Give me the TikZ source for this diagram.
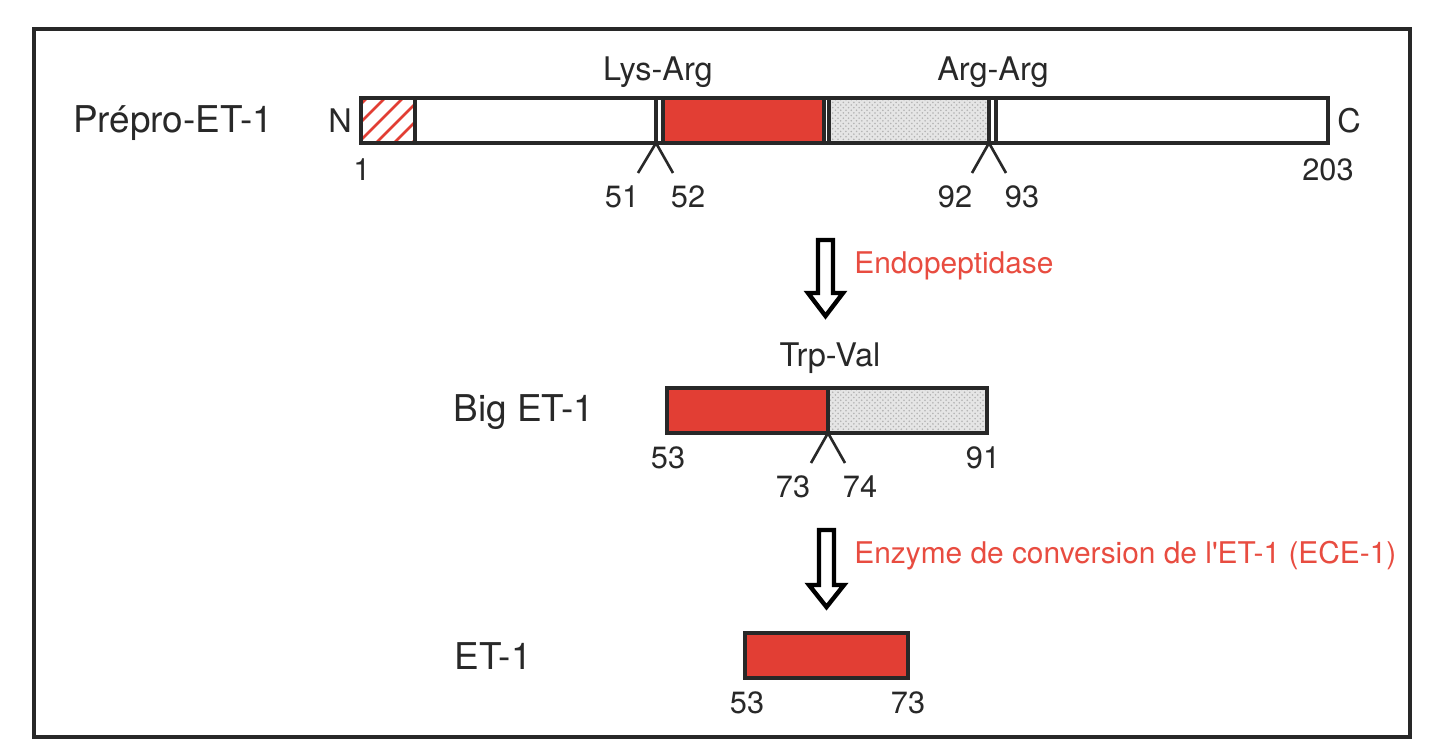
\documentclass[tikz,border=0pt]{standalone}
\usepackage{fontspec}
\setmainfont{TeX Gyre Heros}
\usetikzlibrary{patterns}
\definecolor{etred}{RGB}{226,62,52}
\definecolor{txtred}{RGB}{232,76,64}
\definecolor{ink}{RGB}{40,40,40}
\tikzset{
    seg/.style={draw=ink,line width=1.8pt},
    cut/.style={draw=ink,line width=1.5pt},
    biglab/.style={font=\fontsize{21}{23}\selectfont,text=ink,inner sep=0pt},
    sitelab/.style={font=\fontsize{18.5}{20}\selectfont,text=ink,inner sep=0pt},
    numlab/.style={font=\fontsize{17.5}{19}\selectfont,text=ink,inner sep=0pt},
    enzlab/.style={font=\fontsize{17}{19}\selectfont,text=txtred,inner sep=0pt,anchor=west},
    blockarrow/.style={draw=black,line width=2.5pt,fill=white,line join=miter},
    dotfill/.style={fill=gray!20,postaction={pattern=crosshatch dots,pattern color=gray!60}}
}

\begin{document}
\begin{tikzpicture}[x=0.02cm,y=-0.02cm]
            \useasboundingbox (0,0) rectangle (1441,756);
            \draw[ink,line width=1.8pt] (34,29) rectangle (1410,737);
            % prepro-ET-1
            \fill[etred] (663,98) rectangle (824,143);
            \path[dotfill] (829,98) rectangle (989,143);
            \begin{scope}
                \clip (361,98) rectangle (415,143);
                \foreach \i in {322,340,...,416}
                    \draw[etred,line width=1.6pt] (\i,143)--++(50,-50);
            \end{scope}
            \draw[seg] (361,98) rectangle (1328,143);
            \foreach \i in {415,656,663,824,829,989,996}
                \draw[seg] (\i,98)--(\i,143);
            \draw[cut] (638,173)--(656,143)--(673,173);
            \draw[cut] (972,173)--(989,143)--(1006,173);
            \node[biglab] (prepro) at (173,123) {Prépro-ET-1};
            \node[sitelab] (nterm) at (340,121) {N};
            \node[sitelab] (cterm) at (1349,121) {C};
            \node[sitelab] (lysarg) at (658,72) {Lys-Arg};
            \node[sitelab] (argarg) at (993,72) {Arg-Arg};
            \node[numlab] (n1) at (362,170) {1};
            \node[numlab] (n203) at (1328,170) {203};
            \node[numlab] (n51) at (622,197) {51};
            \node[numlab] (n52) at (688,197) {52};
            \node[numlab] (n92) at (955,197) {92};
            \node[numlab] (n93) at (1022,197) {93};
            % endopeptidase
            \draw[blockarrow] (818,240)--(833,240)--(833,293)--(843,293)--(825.5,316)--(808,293)--(818,293)--cycle;
            \node[enzlab] (endo) at (854,266) {Endopeptidase};
            % big ET-1
            \fill[etred] (667,388) rectangle (828,433);
            \path[dotfill] (828,388) rectangle (987,433);
            \draw[seg] (667,388) rectangle (987,433);
            \draw[seg] (828,388)--(828,433);
            \draw[cut] (811,463)--(828,433)--(845,463);
            \node[biglab] (bigET) at (524,412) {Big ET-1};
            \node[sitelab] (trpval) at (830,358) {Trp-Val};
            \node[numlab] (b53) at (668,458) {53};
            \node[numlab] (b91) at (983,458) {91};
            \node[numlab] (b73) at (793,487) {73};
            \node[numlab] (b74) at (860,487) {74};
            % ECE-1
            \draw[blockarrow] (819,530)--(834,530)--(834,585)--(844,585)--(826.5,607)--(809,585)--(819,585)--cycle;
            \node[enzlab] (ece) at (854,556) {Enzyme de conversion de l\textquotesingle ET-1 (ECE-1)};
            % ET-1
            \fill[etred] (745,633) rectangle (908,678);
            \draw[seg] (745,633) rectangle (908,678);
            \node[biglab] (et) at (493,656) {ET-1};
            \node[numlab] (e53) at (747,703) {53};
            \node[numlab] (e73) at (908,703) {73};
        \end{tikzpicture}
\end{document}
